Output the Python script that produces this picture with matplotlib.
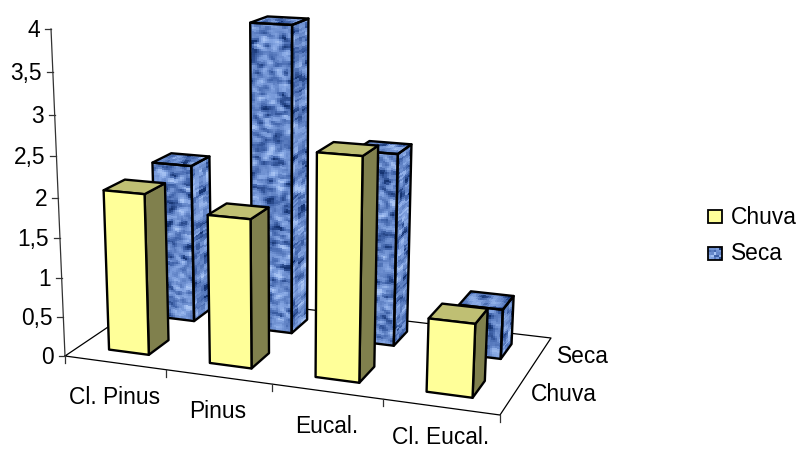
from __future__ import annotations
import numpy as np
import matplotlib
matplotlib.use("Agg")
import matplotlib.pyplot as plt
from matplotlib.colors import LinearSegmentedColormap
from matplotlib.patches import Polygon, Rectangle

categories = ["Cl. Pinus", "Pinus", "Eucal.", "Cl. Eucal."]
series_names = ["Chuva", "Seca"]
chuva = [2.03, 1.85, 2.71, 0.89]
seca = [2.07, 3.92, 2.44, 0.63]
value_ticks = [0, 0.5, 1, 1.5, 2, 2.5, 3, 3.5, 4]
value_labels = ["0", "0,5", "1", "1,5", "2", "2,5", "3", "3,5", "4"]

BAR_W = 0.4
BAR_D = 0.42
FONT = ["Liberation Sans", "DejaVu Sans"]
FS = 16.4

# floor plane corners in pixels: (cat, row) -> (x, y)
FLOOR_SRC = [(0, 0), (4, 0), (4, 2), (0, 2)]
FLOOR_DST = [(65, 356), (500, 415), (551, 338), (160, 292)]
VANISH = (285.0, 5500.0)
AXIS_TOP_Y = 29.0
AXIS_MAX = 4.0

YELLOW = ("#FFFF99", "#BFBF73", "#80804D")
BLUE_CMAP = LinearSegmentedColormap.from_list("tissue", ["#143270", "#3f62a8", "#6486c8", "#84a5e2", "#a8c4f4"])


def _homography(src, dst):
    a, b = [], []
    for (u, v), (x, y) in zip(src, dst):
        a.append([u, v, 1, 0, 0, 0, -u * x, -v * x])
        a.append([0, 0, 0, u, v, 1, -u * y, -v * y])
        b += [x, y]
    sol = np.linalg.solve(np.array(a, float), np.array(b, float))
    return np.append(sol, 1.0).reshape(3, 3)


H = _homography(FLOOR_SRC, FLOOR_DST)
_y0 = FLOOR_DST[0][1]
K = ((AXIS_TOP_Y - _y0) / (VANISH[1] - AXIS_TOP_Y)) / AXIS_MAX


def project(u, v, h):
    u, v, h = np.broadcast_arrays(np.asarray(u, float), np.asarray(v, float), np.asarray(h, float))
    x = H[0, 0] * u + H[0, 1] * v + H[0, 2] + VANISH[0] * K * h
    y = H[1, 0] * u + H[1, 1] * v + H[1, 2] + VANISH[1] * K * h
    w = H[2, 0] * u + H[2, 1] * v + H[2, 2] + K * h
    return x / w, y / w


def _poly(ax, pts, face="none", lw=1.7, z=None):
    xy = np.array([project(*p) for p in pts])
    ax.add_patch(Polygon(xy, closed=True, facecolor=face, edgecolor="black", linewidth=lw, joinstyle="round", zorder=z))


def _smooth(noise, kx, ky):
    # separable blur, wrapped so the grain stays even up to the edges
    out = noise
    for axis, k in ((1, kx), (0, ky)):
        k = np.asarray(k, float) / np.sum(k)
        out = sum(w * np.roll(out, i - len(k) // 2, axis=axis) for i, w in enumerate(k))
    return (out - out.mean()) / out.std()


def _texture(ax, uu, vv, hh, rng, z, soft=True):
    # mottled tissue fill on a projected grid
    ny, nx = uu.shape[0] - 1, uu.shape[1] - 1
    noise = rng.normal(size=(ny, nx))
    if soft:
        noise = _smooth(noise, [1, 2, 3, 2, 1], [1, 2, 1])
    else:
        noise = _smooth(noise, [1, 1], [1, 1, 1])
    X, Y = project(uu, vv, hh)
    ax.pcolormesh(X, Y, noise, cmap=BLUE_CMAP, vmin=-2.4, vmax=2.4, shading="flat", zorder=z, rasterized=True)


def draw_bar(ax, cat, row, value, z, textured=False, rng=None):
    u0 = cat + (1 - BAR_W) / 2 - 0.005
    u1 = u0 + BAR_W
    v0 = row + (1 - BAR_D) / 2
    v1 = v0 + BAR_D
    front = [(u0, v0, 0), (u1, v0, 0), (u1, v0, value), (u0, v0, value)]
    side = [(u1, v0, 0), (u1, v1, 0), (u1, v1, value), (u1, v0, value)]
    top = [(u0, v0, value), (u1, v0, value), (u1, v1, value), (u0, v1, value)]
    if textured:
        nh = max(4, int(value * 78 / 2))
        uu, hh = np.meshgrid(np.linspace(u0, u1, 21), np.linspace(0, value, nh + 1))
        _texture(ax, uu, np.full_like(uu, v0), hh, rng, z)
        vv, hh = np.meshgrid(np.linspace(v0, v1, 6), np.linspace(0, value, nh + 1))
        _texture(ax, np.full_like(vv, u1), vv, hh, rng, z, soft=False)
        uu, vv = np.meshgrid(np.linspace(u0, u1, 21), np.linspace(v0, v1, 7))
        _texture(ax, uu, vv, np.full_like(uu, value), rng, z)
        for face in (front, side, top):
            _poly(ax, face, z=z + 0.5)
    else:
        _poly(ax, side, face=YELLOW[2], z=z)
        _poly(ax, top, face=YELLOW[1], z=z)
        _poly(ax, front, face=YELLOW[0], z=z)


def draw_frame(ax):
    # floor outline, value axis and tick marks
    corners = np.array(FLOOR_DST + FLOOR_DST[:1])
    ax.plot(corners[:, 0], corners[:, 1], color="black", lw=0.9, zorder=1)
    xa, ya = project([0, 0], [0, 0], [0, AXIS_MAX])
    ax.plot(xa, ya, color="#333333", lw=0.9, zorder=1)
    for val, lab in zip(value_ticks, value_labels):
        x, y = project(0, 0, val)
        x, y = float(x), float(y)
        ax.plot([x - 6, x], [y, y], color="#333333", lw=0.9, zorder=1)
        ax.text(x - 11, y + 1.5, lab, ha="right", va="center", fontsize=FS, family=FONT)
    for i in range(len(categories) + 1):
        x, y = project(i, 0, 0)
        x, y = float(x), float(y)
        ax.plot([x, x], [y, y + 7], color="#333333", lw=0.9, zorder=1)
    for i, lab in enumerate(categories):
        x, y = project(i + 0.5, 0, 0)
        # the last label sits low, keep it inside the figure
        ax.text(float(x), min(float(y) + 35, 437.5), lab, ha="center", va="center", fontsize=FS, family=FONT)
    for i, (lab, dx) in enumerate(zip(series_names, (50, 43))):
        x, y = project(4, i + 0.5, 0)
        ax.text(float(x) + dx, float(y) + 1, lab, ha="center", va="center", fontsize=FS, family=FONT)


def draw_legend(ax, rng):
    ax.add_patch(Rectangle((708, 210), 14, 13, facecolor=YELLOW[0], edgecolor="black", linewidth=1.3))
    ax.text(731, 217, series_names[0], va="center", fontsize=FS, family=FONT)
    X, Y = np.meshgrid(np.linspace(708, 722, 6), np.linspace(247, 260, 6))
    ax.pcolormesh(X, Y, rng.normal(size=(5, 5)), cmap=BLUE_CMAP, vmin=-1.9, vmax=1.9)
    ax.add_patch(Rectangle((708, 247), 14, 13, facecolor="none", edgecolor="black", linewidth=1.3))
    ax.text(731, 253, series_names[1], va="center", fontsize=FS, family=FONT)


def main() -> None:
    fig = plt.figure(figsize=(8.01, 4.5), dpi=100)
    ax = fig.add_axes([0, 0, 1, 1])
    ax.set_xlim(0, 801)
    ax.set_ylim(450, 0)
    ax.axis("off")
    rng = np.random.default_rng(11)
    draw_frame(ax)
    for i, val in enumerate(seca):
        draw_bar(ax, i, 1, val, 2 + i, textured=True, rng=rng)
    for i, val in enumerate(chuva):
        draw_bar(ax, i, 0, val, 10 + i)
    draw_legend(ax, rng)
    fig.savefig("out.png", dpi=100)
    plt.close(fig)


main()
